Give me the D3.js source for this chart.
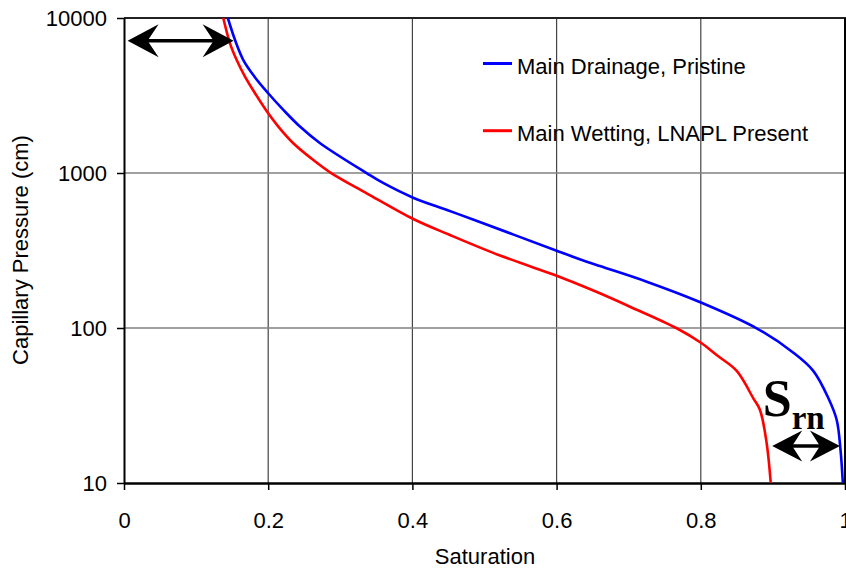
<!DOCTYPE html>
<html>
<head>
<meta charset="utf-8">
<script src="https://cdn.jsdelivr.net/npm/d3@7"></script>
<style>
  html, body { margin: 0; padding: 0; background: #fff; }
  svg { display: block; }
</style>
</head>
<body>
<svg id="chart" width="846" height="568"></svg>
<script>
// ---- data ----
const drainageSat = [0.144, 0.154, 0.1655, 0.181, 0.2, 0.221, 0.244, 0.272, 0.337, 0.360, 0.401, 0.448, 0.485, 0.601, 0.633, 0.660, 0.725, 0.801, 0.8775, 0.928, 0.956, 0.977, 0.9885, 0.9938, 0.997];
const drainagePc  = [10000, 7214, 5356, 4184, 3270, 2553, 1993, 1556, 995, 859, 693, 577, 500, 314, 277, 251, 199, 145.6, 99.6, 69.5, 52.9, 35.2, 25.5, 16.3, 10];

const wettingSat = [0.1377, 0.147, 0.1563, 0.1678, 0.1817, 0.2, 0.214, 0.2348, 0.2626, 0.288, 0.3366, 0.4012, 0.4522, 0.5215, 0.601, 0.6325, 0.660, 0.7018, 0.7666, 0.8012, 0.822, 0.8498, 0.8728, 0.8821, 0.8914, 0.897];
const wettingPc  = [10000, 6866, 5356, 4184, 3270, 2425, 1993, 1556, 1213, 995, 740, 505, 398, 293.6, 216.5, 189.4, 167.4, 137.2, 99.6, 79.7, 66.9, 52.9, 35.2, 29.6, 18.0, 10];

const seriesNames = ["Main Drainage, Pristine", "Main Wetting, LNAPL Present"];
const seriesColors = ["#0000ff", "#ff0000"];

const xTicks = [0, 0.2, 0.4, 0.6, 0.8, 1];
const xTickLabels = ["0", "0.2", "0.4", "0.6", "0.8", "1"];
const yTicks = [10, 100, 1000, 10000];
const yTickLabels = ["10", "100", "1000", "10000"];

const xTitle = "Saturation";
const yTitle = "Capillary Pressure (cm)";

// annotation arrows (in data units): [x1, x2, pressure]
const arrowTop = [0.005, 0.152, 7140];
const arrowSrn = [0.899, 0.993, 17.3];
const srnLabel = { main: "S", sub: "rn", x: 0.886, pc: 27 };

// ---- layout ----
const SANS = "'Liberation Sans', Arial, sans-serif";
const SERIF = "'Liberation Serif', 'Times New Roman', serif";
const svg = d3.select("#chart");
const L = 124, R = 845, T = 18, B = 483;

const x = d3.scaleLinear().domain([0, 1]).range([L, R]);
const y = d3.scaleLog().domain([10, 10000]).range([B, T]);

// gridlines
svg.append("g").selectAll("line").data(xTicks.slice(1, -1)).join("line")
  .attr("x1", d => x(d)).attr("x2", d => x(d))
  .attr("y1", T).attr("y2", B)
  .attr("stroke", "#444").attr("stroke-width", 1.2);
svg.append("g").selectAll("line").data(yTicks.slice(1, -1)).join("line")
  .attr("x1", L).attr("x2", R)
  .attr("y1", d => y(d)).attr("y2", d => y(d))
  .attr("stroke", "#808080").attr("stroke-width", 1.6);

// frame
svg.append("line").attr("x1", L).attr("x2", R + 1).attr("y1", T).attr("y2", T)
  .attr("stroke", "#222").attr("stroke-width", 2);
svg.append("line").attr("x1", R).attr("x2", R).attr("y1", T).attr("y2", B)
  .attr("stroke", "#000").attr("stroke-width", 2);

// axes
const xAxis = d3.axisBottom(x).tickValues(xTicks).tickFormat((d, i) => xTickLabels[i])
  .tickSizeInner(7).tickSizeOuter(0).tickPadding(6);
const gx = svg.append("g").attr("transform", `translate(0,${B})`).call(xAxis);
gx.select(".domain").attr("stroke", "#000").attr("stroke-width", 2.5);
gx.selectAll(".tick line").attr("stroke", "#000").attr("stroke-width", 1.5);
gx.selectAll(".tick text").style("font-size", "22px").style("font-family", SANS).attr("fill", "#000")
  .attr("dy", null).attr("y", 45);

const yAxis = d3.axisLeft(y).tickValues(yTicks).tickFormat((d, i) => yTickLabels[i])
  .tickSizeInner(7).tickSizeOuter(0).tickPadding(10);
const gy = svg.append("g").attr("transform", `translate(${L},0)`).call(yAxis);
gy.select(".domain").attr("stroke", "#000").attr("stroke-width", 2);
gy.selectAll(".tick line").attr("stroke", "#000").attr("stroke-width", 1.5);
gy.selectAll(".tick text").style("font-size", "22px").style("font-family", SANS).attr("fill", "#000")
  .attr("dy", "0.36em");

// axis titles
svg.append("text").attr("x", 485).attr("y", 564)
  .attr("text-anchor", "middle").style("font-size", "22px").style("font-family", SANS)
  .attr("fill", "#000").text(xTitle);
svg.append("text").attr("transform", "translate(28,250) rotate(-90)")
  .attr("text-anchor", "middle").style("font-size", "22px").style("font-family", SANS)
  .attr("fill", "#000").text(yTitle);

// curves
const line = d3.line().x(d => x(d[0])).y(d => y(d[1])).curve(d3.curveCatmullRom.alpha(0.5));
const series = [
  d3.zip(drainageSat, drainagePc),
  d3.zip(wettingSat, wettingPc)
];
svg.append("g").selectAll("path").data(series).join("path")
  .attr("d", line).attr("fill", "none")
  .attr("stroke", (d, i) => seriesColors[i]).attr("stroke-width", 2.6)
  .attr("stroke-linejoin", "round");

// legend
const legend = svg.append("g");
seriesNames.forEach((name, i) => {
  const ly = 63.5 + i * 67.2;
  legend.append("line").attr("x1", 483).attr("x2", 512).attr("y1", ly).attr("y2", ly)
    .attr("stroke", seriesColors[i]).attr("stroke-width", 3);
  legend.append("text").attr("x", 517).attr("y", ly + 10)
    .style("font-size", "22px").style("font-family", SANS)
    .attr("fill", "#000").text(name);
});

// double-headed arrows
function doubleArrow(x1, x2, py, len, half, notch) {
  const g = svg.append("g");
  const X1 = x(x1), X2 = x(x2), Y = y(py);
  g.append("line").attr("x1", X1 + 5).attr("x2", X2 - 5).attr("y1", Y).attr("y2", Y)
    .attr("stroke", "#000").attr("stroke-width", 3.5);
  const head = (tip, dir) => {
    const p = d3.path();
    p.moveTo(tip, Y);
    p.lineTo(tip + dir * len, Y - half);
    p.lineTo(tip + dir * notch, Y);
    p.lineTo(tip + dir * len, Y + half);
    p.closePath();
    return p.toString();
  };
  g.append("path").attr("d", head(X1, 1)).attr("fill", "#000");
  g.append("path").attr("d", head(X2, -1)).attr("fill", "#000");
}
doubleArrow(arrowTop[0], arrowTop[1], arrowTop[2], 31, 16.5, 20);
doubleArrow(arrowSrn[0], arrowSrn[1], arrowSrn[2], 30, 15.5, 20);

// S_rn label
const lbl = svg.append("text")
  .attr("x", x(srnLabel.x)).attr("y", y(srnLabel.pc))
  .style("font-family", SERIF).style("font-weight", "bold").attr("fill", "#000");
lbl.append("tspan").style("font-size", "52px").text(srnLabel.main);
lbl.append("tspan").style("font-size", "33px").attr("dy", 13).text(srnLabel.sub);
</script>
</body>
</html>
